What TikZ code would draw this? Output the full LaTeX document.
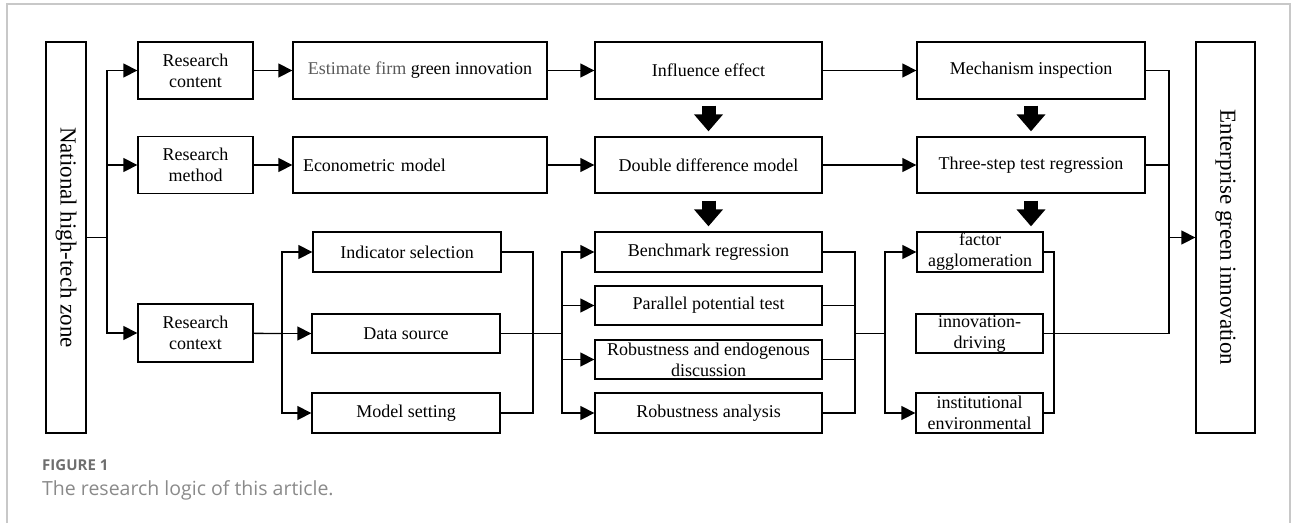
\documentclass[tikz,border=0pt]{standalone}
\usepackage{fontspec}
\setmainfont{Liberation Serif}
\newfontfamily\capfont{Open Sans}
\usetikzlibrary{arrows.meta}
\definecolor{framegray}{HTML}{C8C8C8}
\definecolor{capdark}{HTML}{6E6E6E}
\definecolor{caplight}{HTML}{8A8A8A}
\begin{document}
\begin{tikzpicture}[x=1pt,y=-1pt,
    box/.style={draw,line width=1.3pt,inner sep=0pt,align=center,
      font=\fontsize{18}{21}\selectfont},
    tall/.style={box,font=\fontsize{23}{26}\selectfont,rotate=-90,
      minimum width=391pt},
    link/.style={line width=1.3pt},
    arr/.style={link,-{Triangle[length=14pt,width=14pt]}},
    blk/.style={line width=14pt,-{Triangle[length=17pt,width=28pt]}},
    captext/.style={anchor=base west,inner sep=0pt}]
  \useasboundingbox (0,0) rectangle (1293,523);
  \draw[framegray,line width=1.5pt] (7,523) -- (7,4) -- (1290,4) -- (1290,523);

  % outer columns
  \node[tall,minimum height=40pt] (nat) at (66,237.5) {National high-tech zone};
  \node[tall,minimum height=59pt] (ent) at (1225.5,237.5) {Enterprise green innovation};

  % research steps
  \node[box,minimum width=115pt,minimum height=57pt] (rcont) at (195.5,70.5) {Research\\content};
  \node[box,minimum width=115pt,minimum height=57pt] (rmeth) at (195.5,165) {Research\\method};
  \node[box,minimum width=115pt,minimum height=58pt] (rctx) at (195.5,333) {Research\\context};

  \node[box,minimum width=254pt,minimum height=57pt] (est) at (420,70.5)
    {{\color{black!65}Estimate firm }green innovation};
  \node[box,minimum width=254pt,minimum height=56pt,text width=234pt,
    inner xsep=10pt,align=left] (econ) at (420,165) {Econometric model};
  \node[box,minimum width=188pt,minimum height=40pt] (ind) at (407,252) {Indicator selection};
  \node[box,minimum width=188pt,minimum height=39pt] (dsrc) at (406,333.5) {Data source};
  \node[box,minimum width=188pt,minimum height=40pt] (mset) at (406,413) {Model setting};

  \node[box,minimum width=227pt,minimum height=57pt] (infl) at (708.5,70.5) {Influence effect};
  \node[box,minimum width=227pt,minimum height=56pt] (dd) at (708.5,165) {Double difference model};
  \node[box,minimum width=227pt,minimum height=40pt] (bench) at (708.5,252) {Benchmark regression};
  \node[box,minimum width=227pt,minimum height=39pt] (par) at (708.5,305.5) {Parallel potential test};
  \node[box,minimum width=227pt,minimum height=39pt] (rob) at (708.5,359.5)
    {Robustness and endogenous\\discussion};
  \node[box,minimum width=227pt,minimum height=40pt] (rana) at (708.5,413) {Robustness analysis};

  \node[box,minimum width=228pt,minimum height=57pt] (mech) at (1031,70.5) {Mechanism inspection};
  \node[box,minimum width=228pt,minimum height=56pt] (three) at (1031,165) {Three-step test regression};
  \node[box,minimum width=126pt,minimum height=40pt] (fac) at (980,252) {factor\\agglomeration};
  \node[box,minimum width=127pt,minimum height=39pt] (inno) at (979.5,333.5) {innovation-\\driving};
  \node[box,minimum width=127pt,minimum height=40pt] (inst) at (979.5,413) {institutional\\environmental};

  % branch points
  \coordinate (t) at (107,237.5);
  \coordinate (b1) at (282,333.5);
  \coordinate (b2) at (533,333.5);
  \coordinate (b3) at (562,333.5);
  \coordinate (b4) at (855,333.5);
  \coordinate (b5) at (885,333.5);
  \coordinate (b6) at (1054,333.5);
  \coordinate (b7) at (1169,333.5);

  % connectors
  \draw[link] (nat) -- (t);
  \foreach \n in {rcont,rmeth,rctx}
    \draw[arr] (t) |- (\n);
  \draw[arr] (rcont) -- (est);
  \draw[arr] (est) -- (infl);
  \draw[arr] (infl) -- (mech);
  \draw[arr] (rmeth) -- (econ);
  \draw[arr] (econ) -- (dd);
  \draw[arr] (dd) -- (three);

  \draw[link] (rctx) -- (b1);
  \foreach \n in {ind,dsrc,mset}
    \draw[arr] (b1) |- (\n);
  \draw[link] (ind.east) -| (b2) |- (mset.east);
  \draw[link] (dsrc) -- (b3);
  \foreach \n in {bench,par,rob,rana}
    \draw[arr] (b3) |- (\n);
  \foreach \n in {bench,par,rob,rana}
    \draw[link] (\n.east) -| (b4);
  \draw[link] (b4) -- (b5);
  \draw[arr] (b5) |- (fac);
  \draw[arr] (b5) |- (inst);
  \draw[link] (fac.east) -| (b6) |- (inst.east);
  \draw[link] (inno) -- (b7);
  \draw[link] (mech) -| (b7);
  \draw[link] (three) -| (b7);
  \draw[arr] (b7 |- ent) -- (ent);

  % block arrows
  \draw[blk] ([yshift=-6pt]infl.south) -- ([yshift=5pt]dd.north);
  \draw[blk] ([yshift=-7pt]dd.south) -- ([yshift=5pt]bench.north);
  \draw[blk] ([yshift=-6pt]mech.south) -- ([yshift=5pt]three.north);
  \draw[blk] ([yshift=-7pt]three.south) -- ([yshift=5pt]three.south |- fac.north);

  % caption
  \node[captext,text=capdark] (fig) at (42,470.5)
    {\capfont\fontsize{15}{17}\selectfont\bfseries FIGURE 1};
  \node[captext,text=caplight] (txt) at (42,495)
    {\capfont\fontsize{19.5}{23}\selectfont The research logic of this article.};
\end{tikzpicture}
\end{document}
